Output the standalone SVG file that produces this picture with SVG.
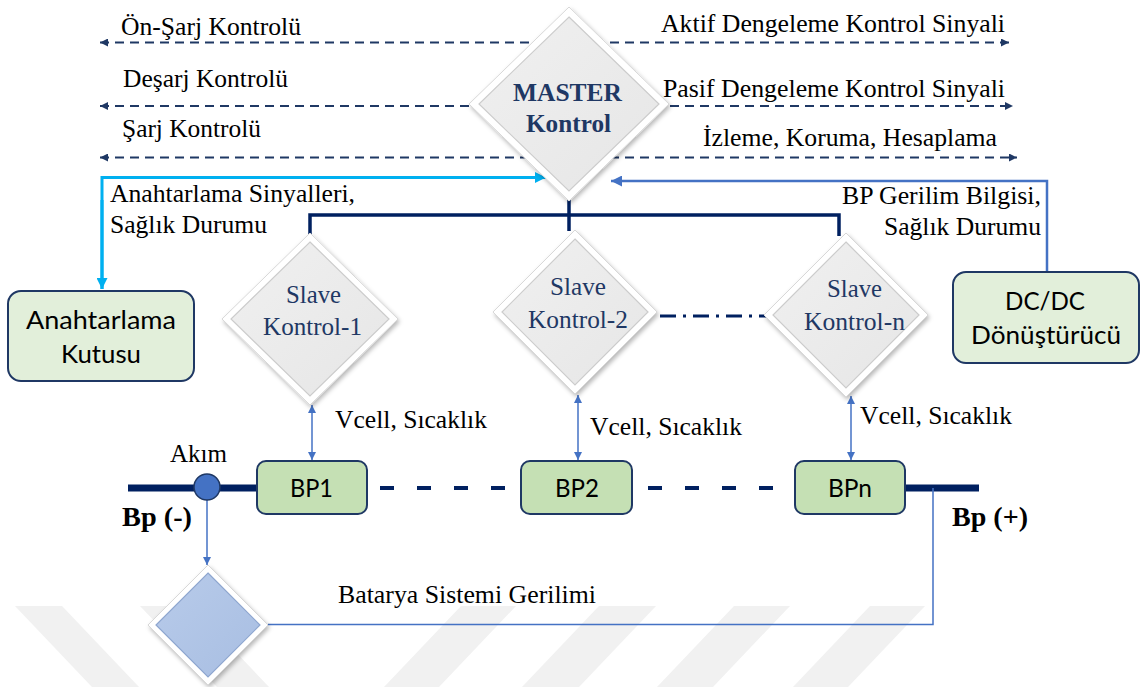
<svg xmlns="http://www.w3.org/2000/svg" width="1141" height="687" viewBox="0 0 1141 687">
<defs>
<style>
.lbl{font-family:"Liberation Serif","Times New Roman",serif;font-size:25px;fill:#000;}
.dtxt{font-family:"Liberation Serif","Times New Roman",serif;font-size:25px;fill:#1f3864;}
.mtxt{font-family:"Liberation Serif","Times New Roman",serif;font-size:26px;font-weight:bold;fill:#1f3864;}
.btxt{font-family:"Lato","Liberation Sans",sans-serif;font-size:25px;fill:#000;}
.bold{font-family:"Liberation Serif","Times New Roman",serif;font-size:28px;font-weight:bold;fill:#000;}
.dash{stroke:#1f3864;stroke-width:2;stroke-dasharray:9 6;fill:none;marker-start:url(#aN);marker-end:url(#aN);}
.wm{fill:#f1f1f1;}
.gbox{fill:#e2efda;stroke:#1f3864;stroke-width:2;}
.bp{fill:#c5e0b4;stroke:#1f3864;stroke-width:2;}
.dframe{fill:#ffffff;stroke:#d8d8d8;stroke-width:1;filter:url(#sh);}
.dface{fill:url(#gg);stroke:#cccccc;stroke-width:1.2;}
.bface{fill:url(#gb);stroke:#8ea6cf;stroke-width:1.2;}
.tree{stroke:#002060;stroke-width:3.5;fill:none;}
.thin{stroke:#4472c4;stroke-width:1.5;fill:none;}
</style>
<filter id="sh" x="-20%" y="-20%" width="140%" height="140%">
<feDropShadow dx="1.5" dy="2.5" stdDeviation="2" flood-color="#000" flood-opacity="0.28"/>
</filter>
<linearGradient id="gg" x1="0" y1="0" x2="1" y2="1">
<stop offset="0" stop-color="#f0f0f0"/>
<stop offset="1" stop-color="#e6e6e6"/>
</linearGradient>
<linearGradient id="gb" x1="0" y1="0" x2="1" y2="1">
<stop offset="0" stop-color="#b8cbea"/>
<stop offset="1" stop-color="#a8bee2"/>
</linearGradient>
<marker id="aN" viewBox="0 0 10 10" refX="10" refY="5" markerWidth="9" markerHeight="8" markerUnits="userSpaceOnUse" orient="auto-start-reverse">
<path d="M0,0 L10,5 L0,10 z" fill="#1f3864"/>
</marker>
<marker id="aC" viewBox="0 0 10 10" refX="10" refY="5" markerWidth="12" markerHeight="11" markerUnits="userSpaceOnUse" orient="auto">
<path d="M0,0 L10,5 L0,10 z" fill="#00b0f0"/>
</marker>
<marker id="aB" viewBox="0 0 10 10" refX="10" refY="5" markerWidth="12" markerHeight="11" markerUnits="userSpaceOnUse" orient="auto">
<path d="M0,0 L10,5 L0,10 z" fill="#4472c4"/>
</marker>
<marker id="aT" viewBox="0 0 10 10" refX="10" refY="5" markerWidth="9" markerHeight="8" markerUnits="userSpaceOnUse" orient="auto-start-reverse">
<path d="M0,0 L10,5 L0,10 z" fill="#4472c4"/>
</marker>
</defs>
<rect width="1141" height="687" fill="#ffffff"/>

<g id="watermark">
<polygon class="wm" points="15,606 62,606 139,687 92,687"/>
<polygon class="wm" points="140,606 192,606 269,687 217,687"/>
<polygon class="wm" points="461,606 516,606 439,687 384,687"/>
<polygon class="wm" points="599,606 656,606 579,687 522,687"/>
<polygon class="wm" points="734,606 790,606 713,687 657,687"/>
<polygon class="wm" points="870,606 925,606 848,687 793,687"/>
</g>

<g id="connectors">
<path class="dash" d="M100,42.5 H1009"/>
<path class="dash" d="M100,106 H1013"/>
<path class="dash" d="M100,157.5 H1017"/>
<path d="M102,289 V177.5 H546" stroke="#00b0f0" stroke-width="3" fill="none" marker-end="url(#aC)"/>
<path d="M102,200 V289" stroke="#00b0f0" stroke-width="3" fill="none" marker-end="url(#aC)"/>
<path d="M1047,272 V181 H611" stroke="#4472c4" stroke-width="2.5" fill="none" marker-end="url(#aB)"/>
<path class="tree" d="M569,200 V231"/>
<path class="tree" d="M310,236 V215 H839 V236"/>
<path d="M660,316 H766" stroke="#002060" stroke-width="3" stroke-dasharray="16 7 3 7" fill="none"/>
<path class="thin" d="M312,405 V460" marker-start="url(#aT)" marker-end="url(#aT)"/>
<path class="thin" d="M578,395 V460" marker-start="url(#aT)" marker-end="url(#aT)"/>
<path class="thin" d="M851,396 V460" marker-start="url(#aT)" marker-end="url(#aT)"/>
<path d="M128,488 H257" stroke="#002060" stroke-width="7" fill="none"/>
<path d="M905,488 H979" stroke="#002060" stroke-width="7" fill="none"/>
<path d="M380,488 H521" stroke="#002060" stroke-width="4" stroke-dasharray="14 23" fill="none"/>
<path d="M648,488 H795" stroke="#002060" stroke-width="4" stroke-dasharray="14 23" fill="none"/>
<path class="thin" d="M207,500 V565" marker-end="url(#aT)"/>
<path class="thin" d="M268,624.5 H933 V488"/>
</g>

<g id="master">
<polygon class="dframe" points="569,7 669,104 569,201 469,104"/>
<polygon class="dface" points="569,17 659,104 569,191 479,104"/>
<text class="mtxt" x="513" y="101" textLength="109" lengthAdjust="spacingAndGlyphs">MASTER</text>
<text class="mtxt" x="526" y="132" textLength="85" lengthAdjust="spacingAndGlyphs">Kontrol</text>
</g>

<g id="labels-top">
<text class="lbl" x="121" y="35" textLength="180" lengthAdjust="spacingAndGlyphs">Ön-Şarj Kontrolü</text>
<text class="lbl" x="123" y="87" textLength="165" lengthAdjust="spacingAndGlyphs">Deşarj Kontrolü</text>
<text class="lbl" x="122" y="137" textLength="139" lengthAdjust="spacingAndGlyphs">Şarj Kontrolü</text>
<text class="lbl" x="661" y="32" textLength="344" lengthAdjust="spacingAndGlyphs">Aktif Dengeleme Kontrol Sinyali</text>
<text class="lbl" x="663" y="97" textLength="342" lengthAdjust="spacingAndGlyphs">Pasif Dengeleme Kontrol Sinyali</text>
<text class="lbl" x="703" y="146" textLength="294" lengthAdjust="spacingAndGlyphs">İzleme, Koruma, Hesaplama</text>
<text class="lbl" x="110" y="202" textLength="245" lengthAdjust="spacingAndGlyphs">Anahtarlama Sinyalleri,</text>
<text class="lbl" x="110" y="233" textLength="157" lengthAdjust="spacingAndGlyphs">Sağlık Durumu</text>
<text class="lbl" x="842" y="204" textLength="199" lengthAdjust="spacingAndGlyphs">BP Gerilim Bilgisi,</text>
<text class="lbl" x="884" y="235" textLength="157" lengthAdjust="spacingAndGlyphs">Sağlık Durumu</text>
</g>

<g id="anahtarlama-kutusu">
<rect class="gbox" x="8" y="291" width="186" height="90" rx="13"/>
<text class="btxt" x="26" y="329" textLength="150" lengthAdjust="spacingAndGlyphs">Anahtarlama</text>
<text class="btxt" x="61" y="363" textLength="80" lengthAdjust="spacingAndGlyphs">Kutusu</text>
</g>

<g id="dcdc">
<rect class="gbox" x="953" y="272" width="186" height="91" rx="13"/>
<text class="btxt" x="1005" y="310" textLength="80" lengthAdjust="spacingAndGlyphs">DC/DC</text>
<text class="btxt" x="971" y="344" textLength="150" lengthAdjust="spacingAndGlyphs">Dönüştürücü</text>
</g>

<g id="slave1">
<polygon class="dframe" points="310,233 398,319 310,405 222,319"/>
<polygon class="dface" points="310,242 389,319 310,396 231,319"/>
<text class="dtxt" x="286" y="303" textLength="55" lengthAdjust="spacingAndGlyphs">Slave</text>
<text class="dtxt" x="263" y="335" textLength="99" lengthAdjust="spacingAndGlyphs">Kontrol-1</text>
</g>

<g id="slave2">
<polygon class="dframe" points="575,230 657,312 575,394 493,312"/>
<polygon class="dface" points="575,239 648,312 575,385 502,312"/>
<text class="dtxt" x="550" y="295" textLength="56" lengthAdjust="spacingAndGlyphs">Slave</text>
<text class="dtxt" x="528" y="328" textLength="100" lengthAdjust="spacingAndGlyphs">Kontrol-2</text>
</g>

<g id="slaven">
<polygon class="dframe" points="846,233 928,315 846,397 764,315"/>
<polygon class="dface" points="846,242 919,315 846,388 773,315"/>
<text class="dtxt" x="827" y="297" textLength="55" lengthAdjust="spacingAndGlyphs">Slave</text>
<text class="dtxt" x="804" y="330" textLength="101" lengthAdjust="spacingAndGlyphs">Kontrol-n</text>
</g>

<g id="vcell-labels">
<text class="lbl" x="335" y="428" textLength="152" lengthAdjust="spacingAndGlyphs">Vcell, Sıcaklık</text>
<text class="lbl" x="590" y="435" textLength="152" lengthAdjust="spacingAndGlyphs">Vcell, Sıcaklık</text>
<text class="lbl" x="860" y="424" textLength="152" lengthAdjust="spacingAndGlyphs">Vcell, Sıcaklık</text>
</g>

<g id="bp1">
<rect class="bp" x="257" y="461" width="110" height="53" rx="9"/>
<text class="btxt" x="290" y="497" textLength="43" lengthAdjust="spacingAndGlyphs">BP1</text>
</g>
<g id="bp2">
<rect class="bp" x="521" y="461" width="111" height="53" rx="9"/>
<text class="btxt" x="555" y="497" textLength="44" lengthAdjust="spacingAndGlyphs">BP2</text>
</g>
<g id="bpn">
<rect class="bp" x="795" y="461" width="110" height="53" rx="9"/>
<text class="btxt" x="828" y="497" textLength="44" lengthAdjust="spacingAndGlyphs">BPn</text>
</g>

<g id="akim">
<circle cx="207" cy="487" r="13" fill="#4472c4" stroke="#1f3864" stroke-width="1.5"/>
<text class="lbl" x="170" y="462" textLength="57" lengthAdjust="spacingAndGlyphs">Akım</text>
</g>

<g id="bus-labels">
<text class="bold" x="122" y="526" textLength="70" lengthAdjust="spacingAndGlyphs">Bp (-)</text>
<text class="bold" x="952" y="526" textLength="76" lengthAdjust="spacingAndGlyphs">Bp (+)</text>
</g>

<g id="voltage-sensor">
<polygon class="dframe" points="208,565 268,625 208,685 148,625"/>
<polygon class="bface" points="208,573 260,625 208,677 156,625"/>
<text class="lbl" x="338" y="603" textLength="258" lengthAdjust="spacingAndGlyphs">Batarya Sistemi Gerilimi</text>
</g>
</svg>
